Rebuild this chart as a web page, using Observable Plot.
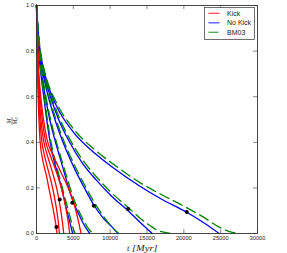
<!DOCTYPE html>
<html><head><meta charset="utf-8">
<script src="https://cdn.jsdelivr.net/npm/d3@7"></script>
<script src="https://cdn.jsdelivr.net/npm/@observablehq/plot@0.6"></script>
<style>body{margin:0;background:#fff}#chart{width:287px;height:253px}</style>
</head><body><div id="chart"></div>
<script>
// Kick (red)
const kick1 = [[0,1],[50,0.9],[90,0.8],[150,0.7],[220,0.6],[330,0.5],[500,0.4],[800,0.33],[1300,0.26],[1800,0.18],[2300,0.1],[2600,0.045],[2780,0]];
const kick2 = [[0,1],[60,0.9],[110,0.8],[180,0.7],[300,0.6],[460,0.5],[700,0.41],[1100,0.34],[1650,0.27],[2250,0.19],[2750,0.1],[2980,0.045],[3110,0]];
const kick3 = [[0,1],[70,0.9],[130,0.8],[220,0.7],[380,0.6],[600,0.5],[950,0.41],[1500,0.34],[2150,0.27],[2800,0.19],[3300,0.1],[3540,0.045],[3690,0]];
const kick4 = [[0,1],[80,0.9],[160,0.8],[270,0.7],[480,0.6],[780,0.5],[1200,0.41],[1900,0.34],[2700,0.27],[3450,0.19],[4050,0.1],[4330,0.045],[4500,0]];
const kick5 = [[0,1],[90,0.9],[190,0.8],[330,0.7],[580,0.6],[950,0.5],[1450,0.41],[2300,0.34],[3300,0.27],[4300,0.2],[5100,0.13],[5650,0.06],[6050,0]];
// No Kick (blue)
const noKick1 = [[0,1],[150,0.9],[300,0.8],[600,0.7],[900,0.62],[1300,0.52],[1750,0.42],[2300,0.33],[2900,0.26],[3550,0.18],[4200,0.09],[4600,0.04],[4900,0]];
const noKick2 = [[0,1],[150,0.9],[350,0.8],[700,0.7],[1200,0.6],[1800,0.5],[2500,0.41],[3300,0.32],[4100,0.23],[4860,0.15],[5800,0.08],[6600,0.03],[7240,0]];
const noKick3 = [[0,1],[150,0.91],[400,0.8],[900,0.7],[1600,0.6],[2500,0.5],[3600,0.4],[5080,0.29],[6500,0.2],[7780,0.125],[9000,0.07],[10200,0.03],[11080,0]];
const noKick4 = [[0,1],[150,0.91],[450,0.8],[1000,0.7],[1900,0.6],[3000,0.5],[4500,0.4],[6200,0.31],[8100,0.235],[10300,0.16],[12430,0.1],[14200,0.045],[15700,0]];
const noKick5 = [[0,1],[150,0.91],[500,0.8],[1200,0.69],[2700,0.56],[5000,0.445],[8000,0.35],[10600,0.284],[14100,0.206],[17000,0.15],[20400,0.093],[22800,0.045],[24800,0]];
// BM03 (green dashed)
const bm1 = [[0,1],[150,0.91],[300,0.81],[600,0.71],[900,0.635],[1300,0.54],[1750,0.44],[2300,0.35],[2900,0.275],[3550,0.195],[4200,0.115],[4700,0.055],[5000,0.02],[5270,0]];
const bm2 = [[0,1],[150,0.91],[350,0.81],[700,0.715],[1200,0.615],[1800,0.515],[2500,0.425],[3300,0.335],[4100,0.25],[4860,0.17],[5800,0.095],[6600,0.045],[7300,0.012],[7780,0]];
const bm3 = [[0,1],[150,0.92],[400,0.81],[900,0.715],[1600,0.615],[2500,0.515],[3600,0.415],[5080,0.305],[6500,0.215],[7780,0.14],[9000,0.08],[10200,0.03],[11160,0]];
const bm4 = [[0,1],[150,0.92],[450,0.81],[1000,0.715],[1900,0.615],[3000,0.515],[4500,0.415],[6200,0.325],[8100,0.25],[10300,0.175],[12430,0.115],[14100,0.066],[15400,0.035],[16500,0.013],[18380,0]];
const bm5 = [[0,1],[150,0.92],[500,0.81],[1200,0.7],[2700,0.575],[5000,0.46],[8000,0.365],[10600,0.3],[14100,0.222],[17000,0.17],[20000,0.12],[22500,0.075],[24700,0.03],[26000,0.01],[27600,0]];
// black markers
const markers = [[2700,0.028],[3150,0.149],[4860,0.135],[7780,0.122],[12430,0.107],[20400,0.094]];

const xTicks = [0,5000,10000,15000,20000,25000,30000];
const yTicks = [0,0.2,0.4,0.6,0.8,1.0];
const legendLabels = ["Kick","No Kick","BM03"];
const seriesColors = ["#ff0000","#0000ff","#008000"];

function rows(curves, group){
  return curves.flatMap((c,i)=>c.map(([t,m])=>({t,m,id:group+i})));
}
const kickData = rows([kick1,kick2,kick3,kick4,kick5],"k");
const noKickData = rows([noKick1,noKick2,noKick3,noKick4,noKick5],"n");
const bmData = rows([bm1,bm2,bm3,bm4,bm5],"b");

const W=287,H=253,ML=36,MR=30,MT=5,MB=20;
const plot = Plot.plot({
  width:W, height:H, marginLeft:ML, marginRight:MR, marginTop:MT, marginBottom:MB,
  style:{fontFamily:"'Liberation Sans', Arial, sans-serif", fontSize:"5.7px", color:"#222", background:"#fff", overflow:"visible"},
  x:{domain:[0,30000]},
  y:{domain:[0,1]},
  marks:[
    Plot.line(noKickData,{x:"t",y:"m",z:"id",stroke:seriesColors[1],strokeWidth:1.3,curve:"monotone-x"}),
    Plot.line(bmData,{x:"t",y:"m",z:"id",stroke:seriesColors[2],strokeWidth:1.3,strokeDasharray:"10,5",curve:"monotone-x"}),
    Plot.line(kickData,{x:"t",y:"m",z:"id",stroke:seriesColors[0],strokeWidth:1.3,curve:"monotone-x"}),
    Plot.dot(markers,{x:d=>d[0],y:d=>d[1],r:2,fill:"black",stroke:"none"}),
    Plot.ruleX(xTicks,{y1:0,y2:0.017,stroke:"#333",strokeWidth:0.6}),
    Plot.ruleX(xTicks,{y1:1,y2:0.983,stroke:"#333",strokeWidth:0.6}),
    Plot.ruleY(yTicks,{x1:0,x2:540,stroke:"#333",strokeWidth:0.6}),
    Plot.ruleY(yTicks,{x1:30000,x2:29460,stroke:"#333",strokeWidth:0.6}),
    Plot.axisX(xTicks,{tickSize:0,tickPadding:2.5,label:null,tickFormat:d3.format("d")}),
    Plot.axisY(yTicks,{tickSize:0,tickPadding:2.5,label:null,tickFormat:d3.format(".1f")}),
    Plot.frame({stroke:"#333",strokeWidth:0.9})
  ]
});
document.getElementById("chart").appendChild(plot);

const svg = d3.select(plot);
const FONT = "'Liberation Sans', Arial, sans-serif";
// legend
const lg = svg.append("g");
lg.append("rect").attr("x",204.5).attr("y",7.5).attr("width",50).attr("height",32)
  .attr("fill","white").attr("stroke","#333").attr("stroke-width",0.7);
legendLabels.forEach((lab,i)=>{
  const y = 13.3 + i*9.5;
  lg.append("line").attr("x1",208.5).attr("x2",219.5).attr("y1",y).attr("y2",y)
    .attr("stroke",seriesColors[i]).attr("stroke-width",1.3).attr("stroke-opacity",0.7)
    .attr("stroke-dasharray", i===2 ? "10,5" : null);
  lg.append("text").attr("x",227).attr("y",y).attr("dy","0.35em")
    .attr("text-anchor","start")
    .attr("font-size","7px").attr("font-family",FONT)
    .attr("fill","#222").text(lab);
});
// x label
const SERIF = "'Liberation Serif', serif";
svg.append("text").attr("x",127).attr("y",250.5).attr("text-anchor","start")
  .attr("font-family",SERIF).attr("font-style","italic")
  .attr("font-size","8.5px").attr("fill","#222").text("t");
svg.append("text").attr("x",132).attr("y",250.5).attr("text-anchor","start")
  .attr("font-family",SERIF).attr("font-style","italic")
  .attr("font-size","8.5px").attr("fill","#222")
  .attr("textLength",25.5).attr("lengthAdjust","spacingAndGlyphs").text("[Myr]");
// y label (fraction M / M0)
const yl = svg.append("g").attr("transform","translate(12,121) rotate(-90)")
  .attr("font-family",SERIF).attr("font-style","italic").attr("fill","#222");
yl.append("text").attr("x",0).attr("y",-1.2).attr("text-anchor","middle").attr("font-size","6px").text("M");
yl.append("line").attr("x1",-4).attr("x2",4).attr("y1",0).attr("y2",0).attr("stroke","#222").attr("stroke-width",0.5);
const den = yl.append("text").attr("x",0).attr("y",4.8).attr("text-anchor","middle").attr("font-size","6px");
den.append("tspan").text("M");
den.append("tspan").attr("font-size","4px").attr("dy","1").text("0");
</script>
</body></html>
